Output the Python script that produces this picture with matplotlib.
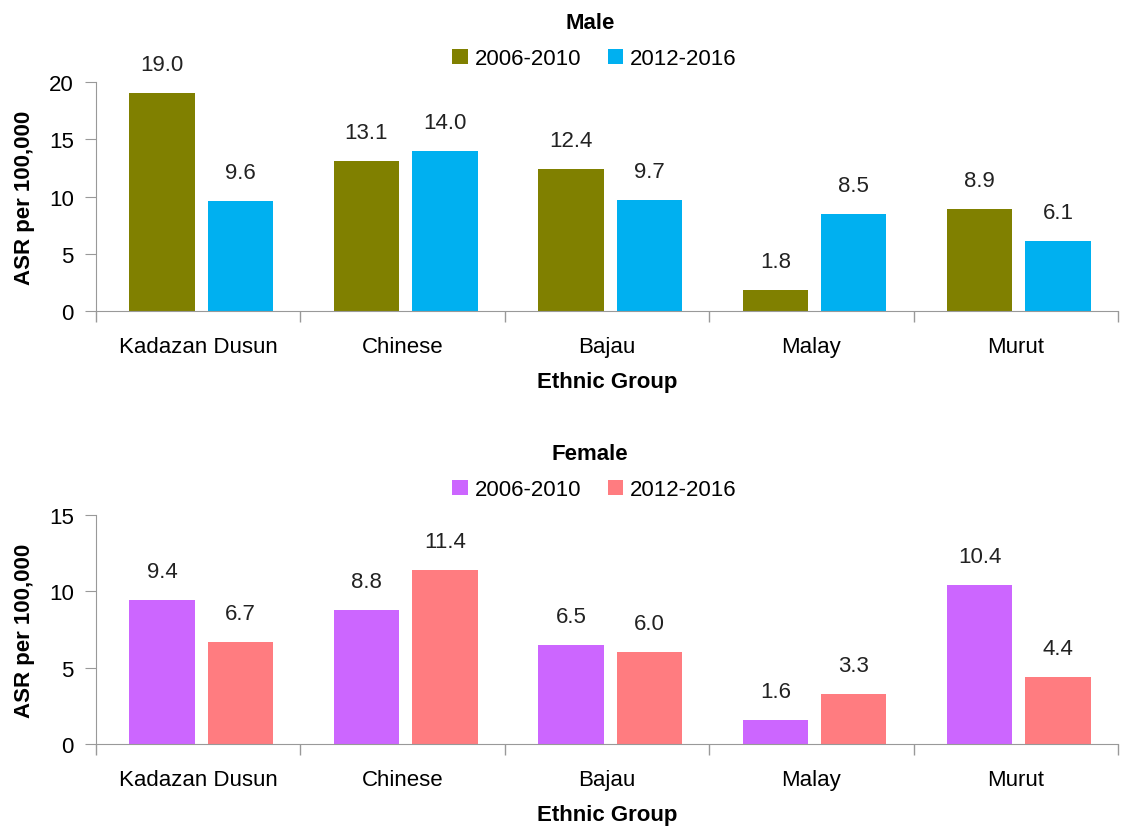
import numpy as np
import matplotlib
matplotlib.use("Agg")
import matplotlib.pyplot as plt
from matplotlib.ticker import FixedLocator

plt.rcParams["font.family"] = ["Liberation Sans Narrow", "Liberation Sans", "DejaVu Sans"]

groups = ["Kadazan Dusun", "Chinese", "Bajau", "Malay", "Murut"]
periods = ["2006-2010", "2012-2016"]
male_2006 = [19.0, 13.1, 12.4, 1.8, 8.9]
male_2012 = [9.6, 14.0, 9.7, 8.5, 6.1]
female_2006 = [9.4, 8.8, 6.5, 1.6, 10.4]
female_2012 = [6.7, 11.4, 6.0, 3.3, 4.4]

male_colors = ["#808000", "#00B0F0"]
female_colors = ["#CC66FF", "#FF7C80"]

fig = plt.figure(figsize=(11.39, 8.29), dpi=100)
ax_m = fig.add_axes([0.0843, 0.6236, 0.8973, 0.2763])
ax_f = fig.add_axes([0.0843, 0.1013, 0.8973, 0.2763])


def draw_panel(ax, v1, v2, colors, title, ymax, ystep, title_y, leg_y):
    x = np.arange(len(groups))
    w = 0.32
    gap = 0.064
    b1 = ax.bar(x - (w + gap) / 2 + 0.015, v1, w, color=colors[0], label=periods[0])
    b2 = ax.bar(x + (w + gap) / 2 + 0.015, v2, w, color=colors[1], label=periods[1])
    for bars, vals in ((b1, v1), (b2, v2)):
        for b, v in zip(bars, vals):
            ax.annotate(f"{v:.1f}", (b.get_x() + b.get_width() / 2, v),
                        xytext=(0, 13), textcoords="offset points",
                        ha="center", va="bottom", fontsize=16, color="#222222")
    ax.set_xlim(-0.5, len(groups) - 0.5)
    ax.set_ylim(0, ymax)
    ax.set_yticks(np.arange(0, ymax + 0.1, ystep))
    ax.xaxis.set_major_locator(FixedLocator(np.arange(-0.5, len(groups), 1.0)))
    ax.xaxis.set_minor_locator(FixedLocator(x))
    ax.set_xticklabels([])
    ax.set_xticklabels(groups, minor=True)
    ax.tick_params(axis="x", which="major", length=8, color="#999999", width=1)
    ax.tick_params(axis="x", which="minor", length=0, labelsize=16, pad=18)
    ax.tick_params(axis="y", length=8, color="#999999", labelsize=16, pad=8)
    for side in ("top", "right"):
        ax.spines[side].set_visible(False)
    for side in ("left", "bottom"):
        ax.spines[side].set_color("#999999")
    ax.set_xlabel("Ethnic Group", fontsize=16, fontweight="bold", labelpad=10)
    ax.set_ylabel("ASR per 100,000", fontsize=16, fontweight="bold", labelpad=10)
    fig.text(0.518, title_y, title, ha="center", va="center", fontsize=16, fontweight="bold")
    ax.legend(loc="center", bbox_to_anchor=(0.522, leg_y), bbox_transform=fig.transFigure,
              ncol=2, frameon=False, fontsize=16, handlelength=0.7, handleheight=0.7,
              handletextpad=0.3, columnspacing=1.2)


draw_panel(ax_m, male_2006, male_2012, male_colors, "Male", 20, 5, 0.972, 0.928)
draw_panel(ax_f, female_2006, female_2012, female_colors, "Female", 15, 5, 0.452, 0.408)

fig.savefig("out.png", dpi=100)
